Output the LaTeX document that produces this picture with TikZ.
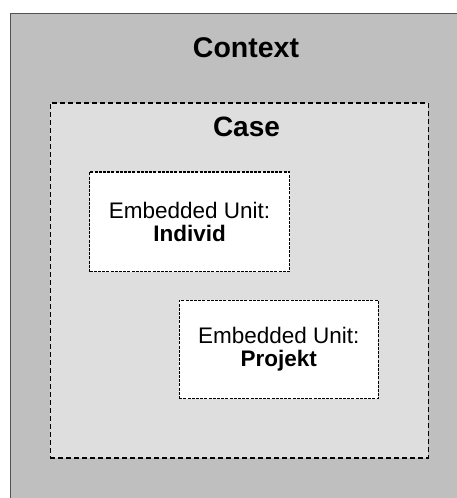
\documentclass[tikz,border=0pt]{standalone}
\usepackage{fontspec}
\setmainfont{Liberation Sans}
\begin{document}
\begin{tikzpicture}[x=1pt,y=-1pt,
  contextbox/.style={draw=black!68, line width=1pt, fill=black!25, rectangle, inner sep=0pt},
  casebox/.style={draw=black, line width=1.6pt, dash pattern=on 5pt off 3pt, fill=black!13, rectangle, inner sep=0pt},
  unitbox/.style={draw=black, line width=1.3pt, dash pattern=on 3pt off 1.2pt, fill=white, rectangle, inner sep=0pt, align=center, font=\fontsize{22.5}{23}\selectfont},
  heading/.style={font=\fontsize{28.5}{30}\selectfont\bfseries, inner sep=0pt, anchor=base}]
  \useasboundingbox[fill=white] (0,0) rectangle (457,498);
  \clip (0,0) rectangle (457,498);
  % outer context area, running past the right and bottom edges
  \node[contextbox, minimum width=470pt, minimum height=500pt, anchor=north west] (context) at (10,13) {};
  \node[heading] (contextlabel) at (246,57.5) {Context};
  % the case inside the context
  \node[casebox, minimum width=378pt, minimum height=355pt, anchor=north west] (case) at (49.5,102) {};
  \node[heading, font=\fontsize{28}{30}\selectfont\bfseries] (caselabel) at (246.5,136.5) {Case};
  % embedded units of analysis
  \node[unitbox, minimum width=200pt, minimum height=99.5pt] (individ) at (189.5,221.8)
    {Embedded Unit:\\\textbf{Individ}};
  \node[unitbox, minimum width=199pt, minimum height=98.5pt] (projekt) at (278.7,349.5)
    {Embedded Unit:\\\textbf{Projekt}};
\end{tikzpicture}
\end{document}
